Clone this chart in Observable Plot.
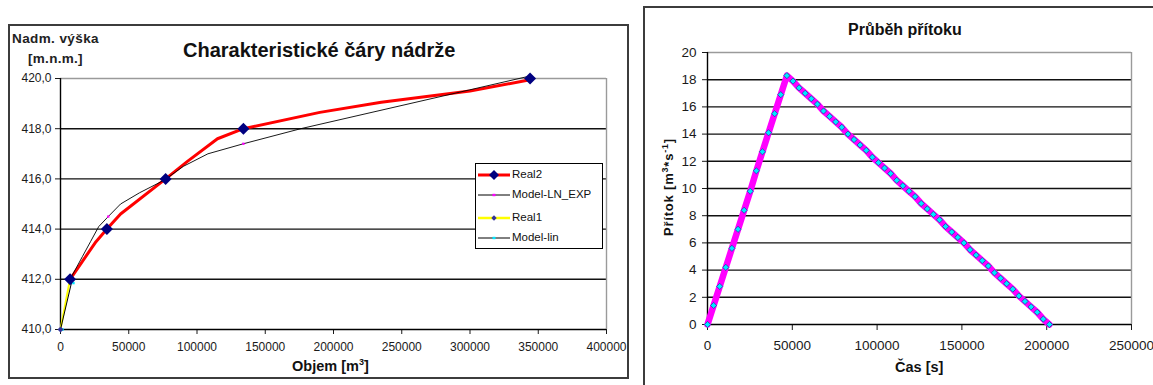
<!DOCTYPE html>
<html><head><meta charset="utf-8">
<script src="https://cdn.jsdelivr.net/npm/d3@7"></script>
<script src="https://cdn.jsdelivr.net/npm/@observablehq/plot@0.6"></script>
<style>
body{margin:0;background:#fff;font-family:"Liberation Sans",Arial,sans-serif;}
#page{position:relative;width:1153px;height:385px;overflow:hidden;background:#fff;}
.abs{position:absolute;white-space:nowrap;color:#111;}
.frame{position:absolute;border:2px solid #3c3c3c;box-sizing:border-box;}
.lg{position:absolute;left:0;font-size:11.5px;color:#111;white-space:nowrap;}
.lg svg{position:absolute;left:2px;top:0;}
.lg span{position:absolute;left:36px;top:-2px;}
</style></head><body><div id="page"></div>
<script>
// ---------- Left chart data: Charakteristické čáry nádrže ----------
const real2Volume = [7000, 26000, 34000, 44000, 77000, 93000, 115000, 134000, 190000, 235000, 300000, 344000];
const real2Level  = [412.0, 413.5, 414.0, 414.6, 416.0, 416.7, 417.6, 418.0, 418.65, 419.05, 419.5, 419.95];
const real2MarkerVolume = [7000, 34000, 77000, 134000, 344000];
const real2MarkerLevel  = [412, 414, 416, 418, 420];
const lnExpVolume = [8000, 16000, 22000, 28000, 35000, 44000, 58000, 76000, 90000, 108000, 134000, 176000, 344000];
const lnExpLevel  = [412.1, 412.9, 413.5, 414.1, 414.5, 415.0, 415.45, 415.95, 416.5, 417.0, 417.4, 418.0, 420.1];
const lnExpMarkerVolume = [35000, 134000];
const lnExpMarkerLevel  = [414.5, 417.4];
const real1Volume = [0, 7000];
const real1Level  = [410, 412];
const linVolume = [0, 8000];
const linLevel  = [410, 411.85];
const levelTicks  = [410, 412, 414, 416, 418, 420];
const volumeTicks = [0, 50000, 100000, 150000, 200000, 250000, 300000, 350000, 400000];
const seriesNames = ["Real2", "Model-LN_EXP", "Real1", "Model-lin"];

// ---------- Right chart data: Průběh přítoku ----------
const inflowStepSeconds = 3600;
const inflowValues = [0, 1.4, 2.8, 4.2, 5.6, 7.0, 8.4, 9.8, 11.3, 12.7, 14.1, 15.5, 16.9, 18.3,
  17.9, 17.4, 17.0, 16.6, 16.2, 15.7, 15.3, 14.9, 14.5, 14.0, 13.6, 13.2, 12.8, 12.3, 11.9, 11.5,
  11.1, 10.6, 10.2, 9.8, 9.4, 8.9, 8.5, 8.1, 7.7, 7.2, 6.8, 6.4, 6.0, 5.5, 5.1, 4.7, 4.3, 3.8,
  3.4, 3.0, 2.6, 2.1, 1.7, 1.3, 0.9, 0.4, 0.0];
const flowTicks = [0, 2, 4, 6, 8, 10, 12, 14, 16, 18, 20];
const timeTicks = [0, 50000, 100000, 150000, 200000, 250000];

const zip = (xs, ys) => xs.map((x, i) => ({x, y: ys[i]}));
const real2 = zip(real2Volume, real2Level);
const real2M = zip(real2MarkerVolume, real2MarkerLevel);
const lnExp = zip(lnExpVolume, lnExpLevel);
const lnExpM = zip(lnExpMarkerVolume, lnExpMarkerLevel);
const real1 = zip(real1Volume, real1Level);
const lin = zip(linVolume, linLevel);
const inflow = inflowValues.map((q, i) => ({x: i * inflowStepSeconds, y: q}));

// square rotated 45° (half-diagonal = r)
const squareDiamond = {
  draw(ctx, size) {
    const h = Math.sqrt(size / Math.PI);
    ctx.moveTo(0, -h); ctx.lineTo(h, 0); ctx.lineTo(0, h); ctx.lineTo(-h, 0); ctx.closePath();
  }
};

const page = document.getElementById("page");
function put(html, css, cls) {
  const d = document.createElement("div");
  d.className = cls || "abs";
  d.innerHTML = html;
  Object.assign(d.style, css);
  page.appendChild(d);
  return d;
}

// Frames
put("", {left: "8px", top: "24px", width: "621px", height: "355px"}, "frame");
put("", {left: "643px", top: "6px", width: "540px", height: "420px"}, "frame");

// Left plot
const left = Plot.plot({
  width: 619, height: 353,
  marginLeft: 51, marginRight: 22, marginTop: 53, marginBottom: 49,
  x: {domain: [0, 400000], ticks: volumeTicks, tickFormat: d => String(d), tickSize: 5, tickPadding: 8, label: null},
  y: {domain: [410, 420], ticks: levelTicks, tickFormat: d => d.toFixed(1).replace(".", ","), tickSize: 5, tickPadding: 4, label: null},
  style: {fontFamily: "Liberation Sans, Arial, sans-serif", fontSize: "12px", color: "#1a1a1a", background: "transparent"},
  marks: [
    Plot.ruleY(levelTicks.slice(1, -1), {stroke: "#111", strokeWidth: 1.4}),
    Plot.ruleY([420], {stroke: "#9a9a9a", strokeWidth: 1.4}),
    Plot.ruleX([400000], {stroke: "#9a9a9a", strokeWidth: 1.4}),
    Plot.ruleX([0], {stroke: "#000", strokeWidth: 1.4}),
    Plot.ruleY([410], {stroke: "#000", strokeWidth: 1.4}),
    Plot.line(real1, {x: "x", y: "y", stroke: "#FFFF00", strokeWidth: 2}),
    Plot.line(lin, {x: "x", y: "y", stroke: "#000", strokeWidth: 1}),
    Plot.dot(lin, {x: "x", y: "y", symbol: "square", r: 1.4, fill: "#00E5FF", stroke: "none", dx: 2}),
    Plot.dot(real1, {x: "x", y: "y", symbol: squareDiamond, r: 3, fill: "#333399"}),
    Plot.line(real2, {x: "x", y: "y", stroke: "#FF0000", strokeWidth: 3}),
    Plot.line(lnExp, {x: "x", y: "y", stroke: "#000", strokeWidth: 0.9}),
    Plot.dot(lnExpM, {x: "x", y: "y", symbol: "square", r: 1.3, fill: "#FF00FF", stroke: "none"}),
    Plot.dot(real2M, {x: "x", y: "y", symbol: squareDiamond, r: 6, fill: "#000080", stroke: "none"})
  ]
});
Object.assign(left.style, {position: "absolute", left: "9px", top: "25px"});
page.appendChild(left);

// Left texts
put("Charakteristické čáry nádrže", {left: "183px", top: "38.5px", fontSize: "20px", fontWeight: "bold"});
put("Nadm. výška", {left: "12px", top: "31px", fontSize: "13.5px", fontWeight: "bold", color: "#222", letterSpacing: "0.4px"});
put("[m.n.m.]", {left: "28px", top: "51px", fontSize: "13.5px", fontWeight: "bold", color: "#222", letterSpacing: "0.3px"});
put("Objem [m<sup style='font-size:9px'>3</sup>]", {left: "292px", top: "354px", fontSize: "14.5px", fontWeight: "bold", lineHeight: "17px"});

// Legend
const lg = put("", {left: "475px", top: "163px", width: "128px", height: "86px", border: "1px solid #000", background: "#fff", boxSizing: "border-box"});
const legendSamples = [
  `<line x1="0" y1="5" x2="32" y2="5" stroke="#FF0000" stroke-width="3"/><path d="M16 0 L21 5 L16 10 L11 5Z" fill="#000080"/>`,
  `<line x1="0" y1="5" x2="32" y2="5" stroke="#000" stroke-width="1"/><rect x="14.5" y="3.8" width="3" height="2.4" fill="#FF00FF"/>`,
  `<line x1="0" y1="5" x2="32" y2="5" stroke="#FFFF00" stroke-width="2.5"/><path d="M16 2.3 L18.7 5 L16 7.7 L13.3 5Z" fill="#333399"/>`,
  `<line x1="0" y1="5" x2="32" y2="5" stroke="#000" stroke-width="1"/><rect x="14.5" y="3.8" width="3" height="2.4" fill="#00E5FF"/>`
];
const legendTops = [6, 26, 49, 69];
seriesNames.forEach((name, i) => {
  const it = document.createElement("div");
  it.className = "lg";
  it.style.top = legendTops[i] + "px";
  it.innerHTML = `<svg width="34" height="11">${legendSamples[i]}</svg><span>${name}</span>`;
  lg.appendChild(it);
});

// Right plot
const right = Plot.plot({
  width: 509, height: 378,
  marginLeft: 63, marginRight: 22, marginTop: 45, marginBottom: 61,
  x: {domain: [0, 250000], ticks: timeTicks, tickFormat: d => String(d), tickSize: 6, tickPadding: 10, label: null},
  y: {domain: [0, 20], ticks: flowTicks, tickFormat: d => String(d), tickSize: 5, tickPadding: 6, label: null},
  style: {fontFamily: "Liberation Sans, Arial, sans-serif", fontSize: "13.5px", color: "#1a1a1a", background: "transparent"},
  marks: [
    Plot.ruleY(flowTicks.slice(1, -1), {stroke: "#111", strokeWidth: 1.4}),
    Plot.ruleY([20], {stroke: "#9a9a9a", strokeWidth: 1.4}),
    Plot.ruleX([250000], {stroke: "#9a9a9a", strokeWidth: 1.4}),
    Plot.ruleX([0], {stroke: "#000", strokeWidth: 1.4}),
    Plot.ruleY([0], {stroke: "#000", strokeWidth: 1.4}),
    Plot.line(inflow, {x: "x", y: "y", stroke: "#FF00FF", strokeWidth: 6.5, strokeLinecap: "round"}),
    Plot.dot(inflow, {x: "x", y: "y", symbol: squareDiamond, r: 3.1, fill: "#00E8FF", stroke: "#1a3c9a", strokeWidth: 0.7})
  ]
});
Object.assign(right.style, {position: "absolute", left: "644px", top: "7px"});
page.appendChild(right);

put("Průběh přítoku", {left: "848px", top: "21px", fontSize: "16px", fontWeight: "bold"});
put("Čas [s]", {left: "895px", top: "358.5px", fontSize: "14.5px", fontWeight: "bold"});
put("Přítok [m<sup style='font-size:9px'>3</sup>*s<sup style='font-size:9px'>-1</sup>]", {left: "667px", top: "187px", fontSize: "13px", fontWeight: "bold", lineHeight: "15px", letterSpacing: "0.8px", transform: "translate(-50%,-50%) rotate(-90deg)"});
</script></body></html>
